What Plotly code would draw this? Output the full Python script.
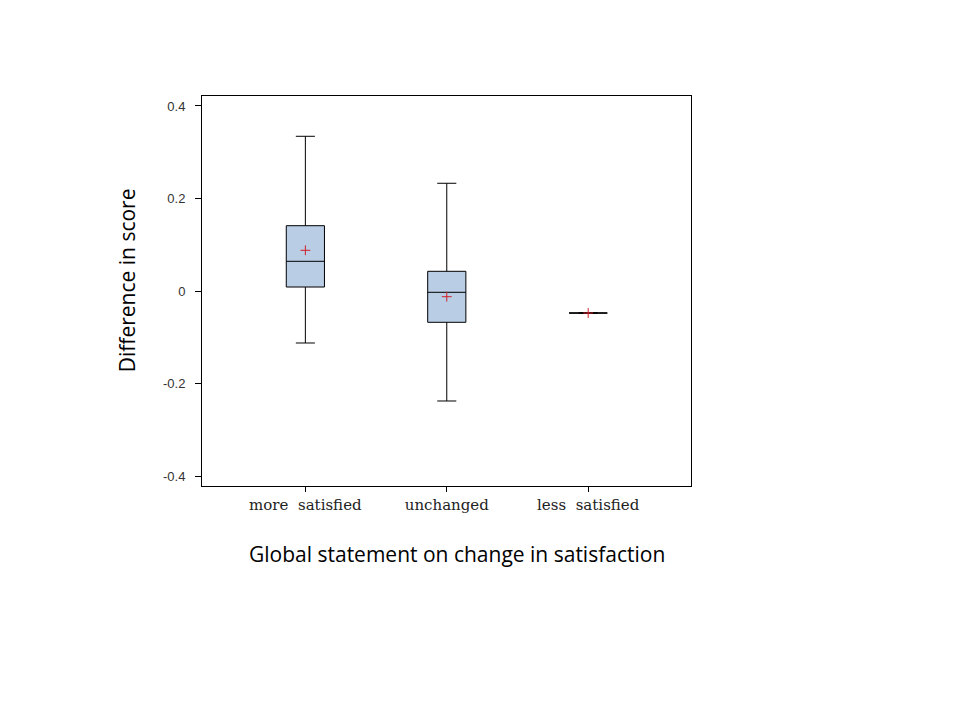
import plotly.graph_objects as go

categories = ["more  satisfied", "unchanged", "less  satisfied"]
positions = [0, 1, 2]
upper_whisker = [0.3345, 0.2329, -0.0476]
q3_values = [0.1412, 0.0426, -0.0476]
median_values = [0.0642, -0.0028, -0.0476]
q1_values = [0.0086, -0.0677, -0.0476]
lower_whisker = [-0.1124, -0.2378, -0.0476]
mean_values = [0.088, -0.0123, -0.0476]
y_ticks = [0.4, 0.2, 0, -0.2, -0.4]
y_tick_labels = ["0.4", "0.2", "0", "-0.2", "-0.4"]

fig = go.Figure()
fig.add_trace(go.Box(
    x=positions,
    q1=q1_values, median=median_values, q3=q3_values,
    lowerfence=lower_whisker, upperfence=upper_whisker,
    width=0.27, whiskerwidth=0.5,
    fillcolor="#b9cde5",
    line=dict(color="black", width=1),
    boxpoints=False, showlegend=False, hoverinfo="skip",
))
fig.add_trace(go.Scatter(
    x=positions, y=mean_values, mode="markers",
    marker=dict(symbol="cross-thin", size=7, line=dict(color="#d0202a", width=1)),
    showlegend=False, hoverinfo="skip",
))

fig.update_layout(
    width=960, height=720,
    paper_bgcolor="white", plot_bgcolor="white",
    margin=dict(l=194, r=277, t=88, b=242, autoexpand=False),
    xaxis=dict(
        range=[-0.731, 2.727], tickmode="array", tickvals=positions, ticktext=categories,
        ticks="outside", ticklen=5, tickcolor="black", showgrid=False, zeroline=False,
        showline=True, linecolor="black", linewidth=1, mirror=True,
        tickfont=dict(family="DejaVu Serif", size=15, color="#222"),
    ),
    yaxis=dict(
        range=[-0.4216, 0.4216], tickmode="array", tickvals=y_ticks, ticktext=y_tick_labels,
        ticks="outside", ticklen=6, tickcolor="black", showgrid=False, zeroline=False,
        showline=True, linecolor="black", linewidth=1, mirror=True,
        ticklabelstandoff=7,
        tickfont=dict(family="Liberation Sans", size=13, color="#333"),
    ),
    annotations=[
        dict(text="Difference in score", xref="paper", yref="paper",
             x=-0.153, y=0.528, xanchor="center", yanchor="middle", textangle=-90,
             showarrow=False, font=dict(family="Open Sans", size=21, color="black")),
        dict(text="Global statement on change in satisfaction", xref="paper", yref="paper",
             x=0.522, y=-0.174, xanchor="center", yanchor="middle",
             showarrow=False, font=dict(family="Open Sans", size=21, color="black")),
    ],
)
fig.write_html("out.html")
